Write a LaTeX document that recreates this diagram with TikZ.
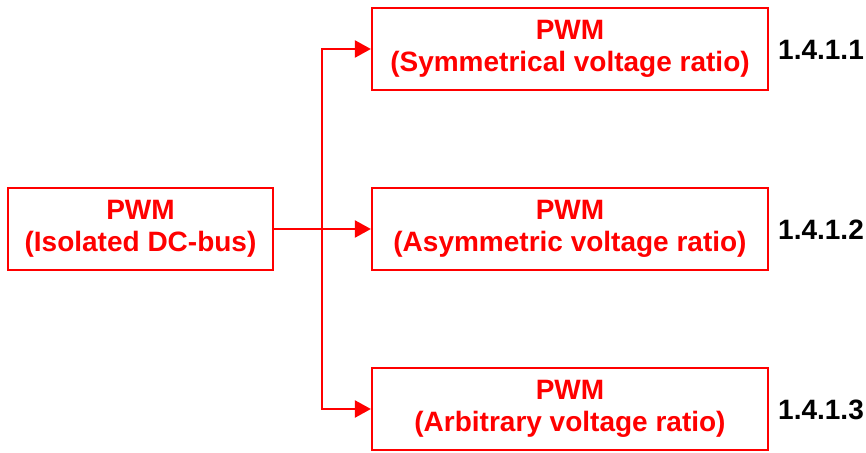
\documentclass[tikz,border=0pt]{standalone}
\usepackage{fontspec}
\setmainfont{Liberation Sans}
\usetikzlibrary{arrows.meta}
\definecolor{pwmred}{RGB}{255,0,0}
\begin{document}
\begin{tikzpicture}[x=1pt,y=-1pt,
  pwmbox/.style={draw=pwmred,line width=2.2pt,text=pwmred,align=center,
    minimum height=82pt,inner sep=0pt,font=\fontsize{28}{32}\selectfont\bfseries},
  sectlabel/.style={anchor=west,inner sep=0pt,font=\fontsize{28}{32}\selectfont\bfseries},
  link/.style={draw=pwmred,line width=2.2pt},
  arrowlink/.style={link,-{Triangle[length=16pt,width=17pt]}}]
\useasboundingbox (0,0) rectangle (866,452);
\node[pwmbox,minimum width=265pt] (L) at (140.5,229) {PWM\\(Isolated DC-bus)};
\node[pwmbox,minimum width=396pt] (T) at (570,49) {PWM\\(Symmetrical voltage ratio)};
\node[pwmbox,minimum width=396pt] (M) at (570,229) {PWM\\(Asymmetric voltage ratio)};
\node[pwmbox,minimum width=396pt] (B) at (570,409) {PWM\\(Arbitrary voltage ratio)};
\node[sectlabel] (l1) at (778,49.5) {1.4.1.1};
\node[sectlabel] (l2) at (778,230) {1.4.1.2};
\node[sectlabel] (l3) at (778,410) {1.4.1.3};
\coordinate (j) at (322,229);
\draw[arrowlink] (L.east) -- (M.west);
\draw[arrowlink] (j) |- (T.west);
\draw[arrowlink] (j) |- (B.west);
\end{tikzpicture}
\end{document}
